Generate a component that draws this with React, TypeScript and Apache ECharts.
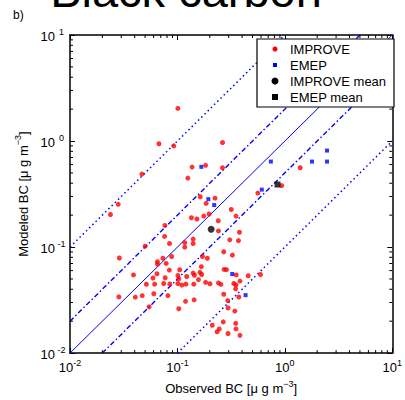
import React, { useEffect, useRef } from "react";
import * as echarts from "echarts";

// Observed (x) and modeled (y) black carbon, µg m^-3
const improveObs = [0.101,0.0673,0.0925,0.0467,0.137,0.125,0.263,0.183,0.263,0.0281,
  0.0238,0.163,0.224,0.185,0.317,0.351,0.135,0.152,0.176,0.197,
  0.240,0.0764,1.39,0.935,0.560,0.241,0.378,0.0759,0.140,0.140,
  0.117,0.117,0.307,0.370,0.050,0.0844,0.270,0.325,0.0288,0.171,
  0.190,0.0652,0.0652,0.0733,0.0883,0.0785,0.167,0.272,0.286,0.353,
  0.456,0.593,0.0841,0.105,0.0645,0.0390,0.0769,0.0593,0.140,0.144,
  0.162,0.168,0.101,0.103,0.122,0.0514,0.0614,0.0745,0.0849,0.101,
  0.110,0.120,0.142,0.157,0.183,0.201,0.241,0.254,0.335,0.351,
  0.382,0.348,0.0285,0.0405,0.0470,0.0603,0.0815,0.270,0.373,0.0545,
  0.103,0.119,0.143,0.294,0.296,0.342,0.211,0.267,0.349,0.351,
  0.245,0.234,0.296,0.382];
const improveMod = [2.03,0.942,0.90,0.488,0.568,0.447,0.969,0.590,0.560,0.253,
  0.203,0.298,0.289,0.258,0.226,0.196,0.189,0.184,0.196,0.205,
  0.177,0.160,0.560,0.380,0.323,0.142,0.138,0.126,0.119,0.108,
  0.110,0.0998,0.117,0.115,0.102,0.108,0.0904,0.0839,0.0788,0.0815,
  0.0784,0.0728,0.0690,0.0784,0.0815,0.0701,0.0653,0.0615,0.0612,0.0546,
  0.0536,0.0551,0.0607,0.0611,0.0560,0.0546,0.0514,0.0511,0.0568,0.0542,
  0.0577,0.0551,0.0539,0.0501,0.0528,0.0446,0.0447,0.0453,0.0449,0.0453,
  0.0438,0.0447,0.0447,0.0493,0.0465,0.0451,0.0459,0.0444,0.0453,0.0439,
  0.0478,0.0404,0.0339,0.0337,0.0348,0.0363,0.0349,0.0359,0.0338,0.0273,
  0.0262,0.0308,0.0318,0.0313,0.0267,0.0249,0.0183,0.0197,0.0191,0.0169,
  0.0169,0.0159,0.0153,0.0147];
const emepObs = [0.167,0.741,1.79,2.47,2.47,0.610,0.194,0.220,0.324,0.431];
const emepMod = [0.571,0.640,0.640,0.640,0.813,0.348,0.283,0.249,0.0557,0.0352];
const improveMeanObs = [0.206];
const improveMeanMod = [0.147];
const emepMeanObs = [0.855];
const emepMeanMod = [0.389];

const ratios = [1, 2, 0.5, 10, 0.1];
const axisMin = 0.01;
const axisMax = 10;
const decades = [0.01, 0.1, 1];
const minorMultipliers = [2, 3, 4, 5, 6, 7, 8, 9];
const legendNames = ["IMPROVE", "EMEP", "IMPROVE mean", "EMEP mean"];

const FONT = "'Liberation Sans', Arial, Helvetica, sans-serif";
const BLUE = "#0000ff";

export default function App() {
  const ref = useRef<HTMLDivElement>(null);
  useEffect(() => {
    document.body.style.margin = "0";
    const chart = echarts.init(ref.current!, null, { renderer: "svg" });
    const pair = (xs: number[], ys: number[]) => xs.map((x, i) => [x, ys[i]]);
    const minorTicks: number[] = [];
    decades.forEach((d) => minorMultipliers.forEach((k) => minorTicks.push(+(d * k).toPrecision(3))));

    const rich = {
      a: { fontSize: 13, fontFamily: FONT, color: "#000", verticalAlign: "bottom" },
      s: { fontSize: 9, fontFamily: FONT, color: "#000", verticalAlign: "bottom", padding: [0, 0, 7, 0] },
    };
    const richY = {
      a: { fontSize: 13, fontFamily: FONT, color: "#000", verticalAlign: "bottom" },
      s: { fontSize: 9, fontFamily: FONT, color: "#000", verticalAlign: "bottom", padding: [0, 0, 7, 0], width: 13, align: "left" },
    };
    const fmt = (v: number) => `{a|10}{s|${Math.round(Math.log10(v))}}`;

    const baseAxis: any = {
      type: "log",
      logBase: 10,
      min: axisMin,
      max: axisMax,
      splitNumber: 3,
      axisLine: { show: true, onZero: false, lineStyle: { color: "#000", width: 1.5 } },
      axisTick: { show: true, inside: true, length: 5, lineStyle: { color: "#000", width: 1 } },
      splitLine: { show: false },
      minorTick: { show: false },
    };

    const lineStyleFor = (r: number) => {
      if (r === 1) return { color: BLUE, width: 1, type: "solid" };
      if (r === 2 || r === 0.5) return { color: BLUE, width: 1.4, type: [5, 2.5, 1.5, 2.5] };
      return { color: BLUE, width: 1.5, type: [1.5, 3] };
    };
    const ratioSeries = ratios.map((r) => {
      const x0 = Math.max(axisMin, axisMin / r);
      const x1 = Math.min(axisMax, axisMax / r);
      return {
        type: "line",
        data: [[x0, x0 * r], [x1, x1 * r]],
        symbol: "none",
        silent: true,
        z: 1,
        lineStyle: lineStyleFor(r),
      };
    });

    const tickLen = 3;
    const legendLeft = 257, legendTop = 39, legendW = 137, legendH = 68;
    const rowY = (i: number) => legendTop + 10 + i * 16;
    const markerX = legendLeft + 18;
    const textX = legendLeft + 33;
    const legendMarkers = [
      { type: "circle", shape: { cx: markerX, cy: rowY(0), r: 2.5 }, style: { fill: "#ff0000" } },
      { type: "rect", shape: { x: markerX - 2, y: rowY(1) - 2, width: 4, height: 4 }, style: { fill: BLUE } },
      { type: "circle", shape: { cx: markerX, cy: rowY(2), r: 3.5 }, style: { fill: "#000" } },
      { type: "rect", shape: { x: markerX - 3, y: rowY(3) - 3, width: 6, height: 6 }, style: { fill: "#000" } },
    ];

    chart.setOption({
      animation: false,
      backgroundColor: "#fff",
      grid: { left: 70, top: 35, width: 326, height: 327, containLabel: false },
      xAxis: [
        {
          ...baseAxis,
          position: "bottom",
          axisLabel: { formatter: fmt, margin: 5, rich },
          name: "{a|Observed BC [μ g m}{s|−3}{a|]}",
          nameLocation: "middle",
          nameGap: 22,
          nameTextStyle: { rich },
        },
        { ...baseAxis, position: "top", axisLabel: { show: false } },
      ],
      yAxis: [
        {
          ...baseAxis,
          position: "left",
          axisLabel: { formatter: fmt, margin: 2, rich: richY },
          name: "{a|Modeled BC [μ g m}{s|−3}{a|]}",
          nameLocation: "middle",
          nameGap: 36,
          nameTextStyle: { rich },
        },
        { ...baseAxis, position: "right", axisLabel: { show: false } },
      ],
      series: [
        ...ratioSeries,
        {
          type: "custom",
          silent: true,
          z: 5,
          data: minorTicks.map((v) => [v, 1]),
          renderItem: (params: any, api: any) => {
            const v = api.value(0);
            const b = api.coord([v, axisMin]);
            const t = api.coord([v, axisMax]);
            return {
              type: "group",
              children: [
                { type: "line", shape: { x1: b[0], y1: b[1], x2: b[0], y2: b[1] - tickLen }, style: { stroke: "#000", lineWidth: 1 } },
                { type: "line", shape: { x1: t[0], y1: t[1], x2: t[0], y2: t[1] + tickLen }, style: { stroke: "#000", lineWidth: 1 } },
              ],
            };
          },
        },
        {
          type: "custom",
          silent: true,
          z: 5,
          data: minorTicks.map((v) => [1, v]),
          renderItem: (params: any, api: any) => {
            const v = api.value(1);
            const l = api.coord([axisMin, v]);
            const r = api.coord([axisMax, v]);
            return {
              type: "group",
              children: [
                { type: "line", shape: { x1: l[0], y1: l[1], x2: l[0] + tickLen, y2: l[1] }, style: { stroke: "#000", lineWidth: 1 } },
                { type: "line", shape: { x1: r[0], y1: r[1], x2: r[0] - tickLen, y2: r[1] }, style: { stroke: "#000", lineWidth: 1 } },
              ],
            };
          },
        },
        {
          name: legendNames[0],
          type: "scatter",
          data: pair(improveObs, improveMod),
          symbol: "circle",
          symbolSize: 5,
          itemStyle: { color: "#ff0000" },
          z: 3,
        },
        {
          name: legendNames[1],
          type: "scatter",
          data: pair(emepObs, emepMod),
          symbol: "rect",
          symbolSize: 4,
          itemStyle: { color: BLUE },
          z: 3,
        },
        {
          name: legendNames[2],
          type: "scatter",
          data: pair(improveMeanObs, improveMeanMod),
          symbol: "circle",
          symbolSize: 7,
          itemStyle: { color: "#000" },
          z: 4,
        },
        {
          name: legendNames[3],
          type: "scatter",
          data: pair(emepMeanObs, emepMeanMod),
          symbol: "rect",
          symbolSize: 6,
          itemStyle: { color: "#000" },
          z: 4,
        },
      ],
      graphic: {
        elements: [
          {
            type: "text",
            x: 186,
            y: -10,
            z: 100,
            style: { text: "Black carbon", fontSize: 47, fontFamily: FONT, fill: "#000", align: "center", verticalAlign: "middle" },
          },
          {
            type: "text",
            x: 13,
            y: 15,
            z: 100,
            style: { text: "b)", fontSize: 12, fontFamily: FONT, fill: "#000", align: "left", verticalAlign: "middle" },
          },
          {
            type: "rect",
            z: 100,
            shape: { x: legendLeft, y: legendTop, width: legendW, height: legendH },
            style: { fill: "#fff", stroke: "#000", lineWidth: 1.2 },
          },
          ...legendMarkers.map((m) => ({ ...m, z: 101 })),
          ...legendNames.map((n, i) => ({
            type: "text",
            z: 101,
            x: textX,
            y: rowY(i),
            style: { text: n, fontSize: 13, fontFamily: FONT, fill: "#000", align: "left", verticalAlign: "middle" },
          })),
        ],
      },
    });
    return () => chart.dispose();
  }, []);
  return <div ref={ref} style={{ width: 405, height: 400 }} />;
}
